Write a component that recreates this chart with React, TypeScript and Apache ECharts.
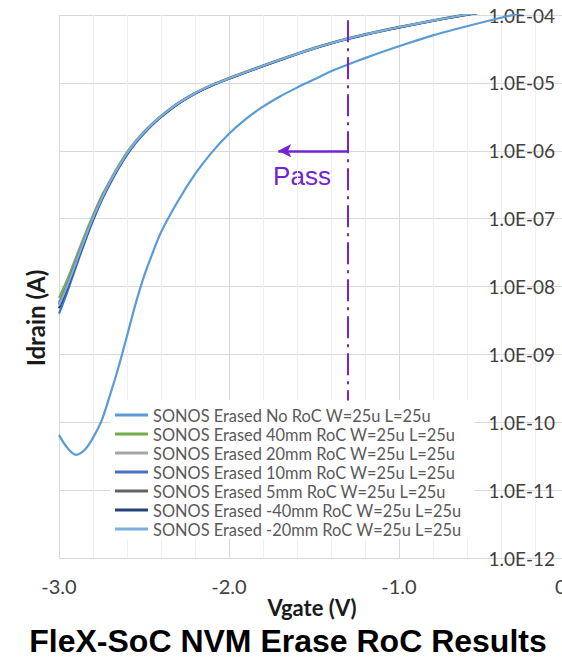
import React, { useEffect, useRef } from "react";
import * as echarts from "echarts";

// Vgate sample points (V), shared by all curves
const vgate = [-3.0, -2.95, -2.9, -2.85, -2.8, -2.75, -2.7, -2.65, -2.6, -2.55, -2.5, -2.45, -2.4, -2.3, -2.2, -2.1, -2.0, -1.9, -1.8, -1.7, -1.6, -1.5, -1.4, -1.3, -1.2, -1.1, -1.0, -0.8, -0.6, -0.4, -0.2, 0];

// Idrain, stored as log10(A)
const noRocLog = [-10.19, -10.38, -10.48, -10.41, -10.23, -9.98, -9.6, -9.19, -8.73, -8.26, -7.85, -7.51, -7.2, -6.74, -6.345, -6.02, -5.75, -5.53, -5.35, -5.2, -5.07, -4.95, -4.83, -4.73, -4.635, -4.545, -4.46, -4.3, -4.165, -4.04, -3.93, -3.83];
const roc40Log = [-8.17, -7.89, -7.57, -7.25, -6.95, -6.67, -6.44, -6.22, -6.02, -5.858, -5.719, -5.595, -5.486, -5.297, -5.147, -5.027, -4.927, -4.834, -4.743, -4.654, -4.567, -4.485, -4.41, -4.342, -4.282, -4.227, -4.175, -4.077, -3.987, -3.907, -3.835, -3.769];
const roc20Log = [-8.23, -7.94, -7.61, -7.28, -6.97, -6.69, -6.45, -6.23, -6.03, -5.865, -5.725, -5.6, -5.49, -5.3, -5.15, -5.03, -4.93, -4.837, -4.746, -4.657, -4.57, -4.488, -4.413, -4.345, -4.285, -4.23, -4.178, -4.08, -3.99, -3.91, -3.838, -3.772];
const roc10Log = [-8.4, -8.07, -7.71, -7.36, -7.03, -6.74, -6.49, -6.26, -6.06, -5.89, -5.745, -5.618, -5.505, -5.312, -5.16, -5.04, -4.94, -4.846, -4.755, -4.665, -4.578, -4.495, -4.42, -4.352, -4.292, -4.237, -4.185, -4.087, -3.997, -3.917, -3.845, -3.779];
const roc5Log = [-8.26, -7.96, -7.63, -7.3, -6.98, -6.7, -6.46, -6.24, -6.04, -5.873, -5.731, -5.605, -5.494, -5.304, -5.154, -5.034, -4.934, -4.841, -4.75, -4.661, -4.574, -4.492, -4.417, -4.349, -4.289, -4.234, -4.182, -4.084, -3.994, -3.914, -3.842, -3.776];
const rocM40Log = [-8.32, -8.01, -7.67, -7.33, -7.01, -6.72, -6.47, -6.25, -6.05, -5.88, -5.738, -5.611, -5.499, -5.308, -5.157, -5.037, -4.937, -4.843, -4.752, -4.662, -4.575, -4.493, -4.418, -4.35, -4.29, -4.235, -4.183, -4.085, -3.995, -3.915, -3.843, -3.777];
const rocM20Log = [-8.28, -7.98, -7.65, -7.31, -6.99, -6.71, -6.46, -6.24, -6.04, -5.872, -5.73, -5.604, -5.493, -5.303, -5.153, -5.033, -4.933, -4.84, -4.749, -4.66, -4.573, -4.491, -4.416, -4.348, -4.288, -4.233, -4.181, -4.083, -3.993, -3.913, -3.841, -3.775];

const seriesNames = [
  "SONOS Erased No RoC W=25u L=25u",
  "SONOS Erased 40mm RoC W=25u L=25u",
  "SONOS Erased 20mm RoC W=25u L=25u",
  "SONOS Erased 10mm RoC W=25u L=25u",
  "SONOS Erased 5mm RoC W=25u L=25u",
  "SONOS Erased -40mm RoC W=25u L=25u",
  "SONOS Erased -20mm RoC W=25u L=25u",
];
const seriesColors = ["#5B9BD5", "#70AD47", "#A5A5A5", "#4472C4", "#636363", "#264478", "#7CAFDD"];
const seriesLog = [noRocLog, roc40Log, roc20Log, roc10Log, roc5Log, rocM40Log, rocM20Log];

// Pass criterion line and arrow
const passVg = -1.3;
const passArrowTipVg = -1.71;
const passArrowI = 1e-6;

const purple = "#7124D4";

export default function App() {
  const ref = useRef<HTMLDivElement>(null);
  useEffect(() => {
    if (!ref.current) return;
    const chart = echarts.init(ref.current, null, { renderer: "svg" });
    const lines = seriesNames.map((name, k) => ({
      type: "line",
      name,
      data: vgate.map((x, i) => [x, Math.pow(10, seriesLog[k][i])]),
      symbol: "none",
      showSymbol: false,
      smooth: 0.3,
      clip: true,
      lineStyle: { width: 2.2, color: seriesColors[k] },
      itemStyle: { color: seriesColors[k] },
      z: 3,
    }));
    const option: any = {
      animation: false,
      grid: { left: 59, top: 15, width: 510, height: 543, containLabel: false, outerBoundsMode: "none" },
      xAxis: {
        type: "value",
        min: -3,
        max: 0,
        interval: 1,
        axisLine: { show: false },
        axisTick: { show: false },
        axisLabel: {
          formatter: (v: number) => v.toFixed(1),
          fontFamily: "Lato",
          fontSize: 20,
          color: "#404040",
          margin: 18,
          showMaxLabel: true,
          showMinLabel: true,
          hideOverlap: false,
        },
        splitLine: { show: true, lineStyle: { color: "#d9d9d9", width: 1 } },
        minorTick: { show: false, splitNumber: 5 },
        minorSplitLine: { show: true, lineStyle: { color: "#efefef", width: 1 } },
      },
      yAxis: {
        type: "log",
        logBase: 10,
        min: 1e-12,
        max: 1e-4,
        splitNumber: 8,
        position: "right",
        axisLine: { show: false },
        axisTick: { show: false },
        axisLabel: {
          inside: true,
          margin: 14,
          fontFamily: "Lato",
          fontSize: 19,
          color: "#404040",
          formatter: (v: number) => {
            const e = Math.round(Math.log10(v));
            return "1.0E" + (e < 0 ? "-" : "+") + String(Math.abs(e)).padStart(2, "0");
          },
        },
        splitLine: { show: true, lineStyle: { color: "#d9d9d9", width: 1 } },
      },
      legend: {
        data: seriesNames,
        orient: "vertical",
        left: 110,
        top: 400,
        itemWidth: 33,
        itemHeight: 3,
        itemGap: 3,
        icon: "rect",
        padding: [7, 13, 2, 5],
        backgroundColor: "#ffffff",
        selectedMode: false,
        textStyle: { fontFamily: "Lato", fontSize: 16.4, color: "#595959" },
      },
      series: [
        ...lines,
        {
          type: "line",
          name: "passLine",
          data: [],
          symbol: "none",
          markLine: {
            silent: true,
            symbol: "none",
            animation: false,
            label: { show: false },
            lineStyle: { color: purple, width: 2, type: [22, 6, 3, 6] },
            data: [[{ coord: [passVg, 8.4e-5] }, { coord: [passVg, 2.1e-10] }]],
          },
        },
        {
          type: "line",
          name: "passArrow",
          data: [],
          symbol: "none",
          markLine: {
            silent: true,
            symbol: ["none", "arrow"],
            symbolSize: [10, 13],
            animation: false,
            label: { show: false },
            lineStyle: { color: purple, width: 2.5, type: "solid" },
            data: [[{ coord: [passVg, passArrowI] }, { coord: [passArrowTipVg, passArrowI] }]],
          },
        },
      ],
      graphic: [
        {
          type: "text",
          x: 302,
          y: 176,
          style: {
            text: "Pass",
            font: "26px 'Liberation Sans', Arial, sans-serif",
            fill: purple,
            align: "center",
            verticalAlign: "middle",
            textAlign: "center",
            textVerticalAlign: "middle",
          },
        },
        {
          type: "text",
          x: 35,
          y: 318,
          rotation: Math.PI / 2,
          style: {
            text: "Idrain (A)",
            font: "bold 24px Lato, sans-serif",
            fill: "#1a1a1a",
            align: "center",
            verticalAlign: "middle",
            textAlign: "center",
            textVerticalAlign: "middle",
          },
        },
        {
          type: "text",
          x: 312,
          y: 607,
          style: {
            text: "Vgate (V)",
            font: "bold 22px Lato, sans-serif",
            fill: "#1a1a1a",
            align: "center",
            verticalAlign: "middle",
            textAlign: "center",
            textVerticalAlign: "middle",
          },
        },
        {
          type: "text",
          x: 288,
          y: 641,
          style: {
            text: "FleX-SoC NVM Erase RoC Results",
            font: "bold 32px 'Liberation Sans', Arial, sans-serif",
            fill: "#000000",
            align: "center",
            verticalAlign: "middle",
            textAlign: "center",
            textVerticalAlign: "middle",
          },
        },
      ],
    };
    chart.setOption(option);
    return () => chart.dispose();
  }, []);
  return (
    <div
      ref={ref}
      style={{ position: "absolute", left: 0, top: 0, width: 562, height: 662, background: "#fff" }}
    />
  );
}
